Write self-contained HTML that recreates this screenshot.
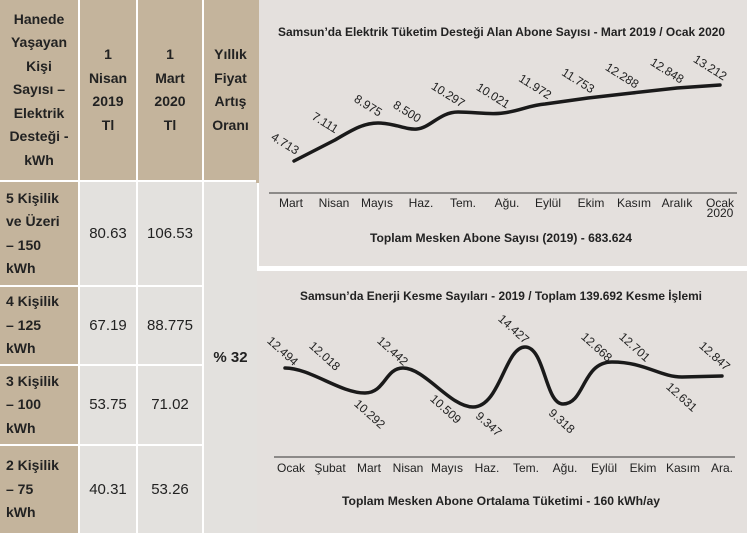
<!DOCTYPE html>
<html><head><meta charset="utf-8"><style>
body{margin:0;width:747px;height:533px;background:#fff;position:relative;overflow:hidden;font-family:"Liberation Sans",sans-serif;}
.c{position:absolute;box-sizing:border-box;color:#222;font-size:14px;line-height:23.5px;}
.h{background:#c4b49c;font-weight:bold;text-align:center;display:flex;align-items:center;justify-content:center;}
.l{background:#c4b49c;font-weight:bold;padding-left:6px;display:flex;align-items:center;}
.d{background:#e3e1de;display:flex;align-items:center;justify-content:center;font-size:15px;}
</style></head><body>
<div class="c h" style="left:0;top:0;width:78px;height:180px">Hanede<br>Yaşayan<br>Kişi<br>Sayısı –<br>Elektrik<br>Desteği -<br>kWh</div>
<div class="c h" style="left:80px;top:0;width:56px;height:180px">1<br>Nisan<br>2019<br>Tl</div>
<div class="c h" style="left:138px;top:0;width:64px;height:180px">1<br>Mart<br>2020<br>Tl</div>
<div class="c h" style="left:204px;top:0;width:53px;height:180px">Yıllık<br>Fiyat<br>Artış<br>Oranı</div>

<div class="c l" style="left:0;top:182px;width:78px;height:103px">5 Kişilik<br>ve Üzeri<br>– 150<br>kWh</div>
<div class="c d" style="left:80px;top:182px;width:56px;height:103px">80.63</div>
<div class="c d" style="left:138px;top:182px;width:64px;height:103px">106.53</div>

<div class="c l" style="left:0;top:287px;width:78px;height:77px">4 Kişilik<br>– 125<br>kWh</div>
<div class="c d" style="left:80px;top:287px;width:56px;height:77px">67.19</div>
<div class="c d" style="left:138px;top:287px;width:64px;height:77px">88.775</div>

<div class="c l" style="left:0;top:366px;width:78px;height:78px">3 Kişilik<br>– 100<br>kWh</div>
<div class="c d" style="left:80px;top:366px;width:56px;height:78px">53.75</div>
<div class="c d" style="left:138px;top:366px;width:64px;height:78px">71.02</div>

<div class="c l" style="left:0;top:446px;width:78px;height:87px">2 Kişilik<br>– 75<br>kWh</div>
<div class="c d" style="left:80px;top:446px;width:56px;height:87px">40.31</div>
<div class="c d" style="left:138px;top:446px;width:64px;height:87px">53.26</div>

<div class="c d" style="left:204px;top:182px;width:53px;height:351px;font-weight:bold">% 32</div>

<svg style="position:absolute;left:0;top:0" width="747" height="533" font-family="Liberation Sans, sans-serif">
<rect x="256" y="0" width="3" height="183" fill="#c4b49c"/>
<rect x="259" y="0" width="488" height="266" fill="#e4e0dd"/>
<rect x="257" y="271" width="490" height="262" fill="#e4e0dd"/>
<g fill="#222" font-size="11.5" font-weight="bold">
<text x="278" y="36" textLength="447" lengthAdjust="spacingAndGlyphs">Samsun’da Elektrik Tüketim Desteği Alan Abone Sayısı - Mart 2019 / Ocak 2020</text>
<text x="370" y="242" textLength="262" lengthAdjust="spacingAndGlyphs">Toplam Mesken Abone Sayısı (2019) - 683.624</text>
<text x="300" y="300" textLength="402" lengthAdjust="spacingAndGlyphs">Samsun’da Enerji Kesme Sayıları - 2019 / Toplam 139.692 Kesme İşlemi</text>
<text x="342" y="505" textLength="318" lengthAdjust="spacingAndGlyphs">Toplam Mesken Abone Ortalama Tüketimi - 160 kWh/ay</text>
</g>
<line x1="269" y1="193" x2="737" y2="193" stroke="#333" stroke-width="1"/>
<line x1="274" y1="457" x2="735" y2="457" stroke="#333" stroke-width="1"/>
<path d="M294,161 L335,140 C355,128 365,123 378,123 C395,123 405,130 417,129 C430,128 440,112 458,112 C475,112 490,115 503,113 C520,111 530,105 545,104 L588,98 L632,93 L677,88 L720,85" fill="none" stroke="#1a1a1a" stroke-width="3.5" stroke-linecap="round" stroke-linejoin="round"/>
<path d="M285,368 C310,368 340,393 365,393 C385,393 385,368 403,368 C425,368 450,407 473,407 C500,407 505,347 525,347 C545,347 545,404 563,404 C585,404 582,362 612,362 C645,362 660,377 682,377 L722,376" fill="none" stroke="#1a1a1a" stroke-width="3.5" stroke-linecap="round" stroke-linejoin="round"/>
<g fill="#222" font-size="12" text-anchor="middle">
<text x="291" y="207">Mart</text><text x="334" y="207">Nisan</text><text x="377" y="207">Mayıs</text><text x="421" y="207">Haz.</text><text x="463" y="207">Tem.</text><text x="507" y="207">Ağu.</text><text x="548" y="207">Eylül</text><text x="591" y="207">Ekim</text><text x="634" y="207">Kasım</text><text x="677" y="207">Aralık</text><text x="720" y="207">Ocak</text><text x="720" y="217">2020</text>
<text x="291" y="472">Ocak</text><text x="330" y="472">Şubat</text><text x="369" y="472">Mart</text><text x="408" y="472">Nisan</text><text x="447" y="472">Mayıs</text><text x="487" y="472">Haz.</text><text x="526" y="472">Tem.</text><text x="565" y="472">Ağu.</text><text x="604" y="472">Eylül</text><text x="643" y="472">Ekim</text><text x="683" y="472">Kasım</text><text x="722" y="472">Ara.</text>
</g>
<g fill="#222" font-size="12" text-anchor="middle">
<text transform="translate(283,147) rotate(32)">4.713</text>
<text transform="translate(323,126) rotate(32)">7.111</text>
<text transform="translate(366,109) rotate(32)">8.975</text>
<text transform="translate(405,115) rotate(32)">8.500</text>
<text transform="translate(446,98) rotate(32)">10.297</text>
<text transform="translate(491,99) rotate(32)">10.021</text>
<text transform="translate(533,90) rotate(32)">11.972</text>
<text transform="translate(576,84) rotate(32)">11.753</text>
<text transform="translate(620,79) rotate(32)">12.288</text>
<text transform="translate(665,74) rotate(32)">12.848</text>
<text transform="translate(708,71) rotate(32)">13.212</text>
<text transform="translate(280,354) rotate(42)">12.494</text>
<text transform="translate(322,359) rotate(42)">12.018</text>
<text transform="translate(367,417) rotate(42)">10.292</text>
<text transform="translate(390,354) rotate(42)">12.442</text>
<text transform="translate(443,412) rotate(42)">10.509</text>
<text transform="translate(486,427) rotate(42)">9.347</text>
<text transform="translate(511,332) rotate(42)">14.427</text>
<text transform="translate(559,424) rotate(42)">9.318</text>
<text transform="translate(594,350) rotate(42)">12.668</text>
<text transform="translate(632,350) rotate(42)">12.701</text>
<text transform="translate(679,400) rotate(42)">12.631</text>
<text transform="translate(712,359) rotate(42)">12.847</text>
</g>
</svg>
</body></html>
